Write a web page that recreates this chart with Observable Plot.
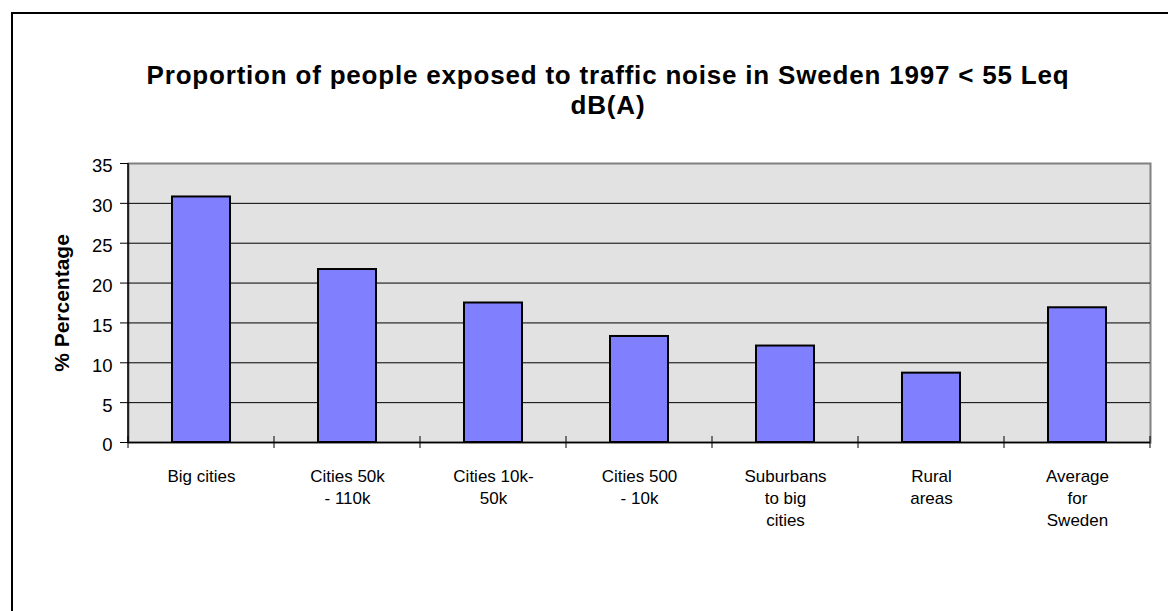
<!DOCTYPE html>
<html>
<head>
<meta charset="utf-8">
<script src="https://cdn.jsdelivr.net/npm/d3@7"></script>
<script src="https://cdn.jsdelivr.net/npm/@observablehq/plot@0.6"></script>
<style>
  html, body { margin: 0; padding: 0; background: #fff; }
  #chart { position: relative; width: 1168px; height: 611px; overflow: hidden; font-family: "Liberation Sans", Arial, sans-serif; }
  #frame { position: absolute; left: 11px; top: 12px; width: 1300px; height: 800px; border: 2px solid #000; box-sizing: border-box; }
  #plot { position: absolute; left: 0; top: 0; }
  #title { position: absolute; left: 108px; width: 1000px; top: 60px; text-align: center; font-weight: bold; font-size: 26px; line-height: 30px; letter-spacing: 0.8px; color: #000; }
</style>
</head>
<body>
<div id="chart">
  <div id="frame"></div>
  <div id="plot"></div>
  <div id="title"></div>
</div>
<script>
const titleLines = ["Proportion of people exposed to traffic noise in Sweden 1997 < 55 Leq", "dB(A)"];
const yLabel = "% Percentage";
const categories = ["Big cities", "Cities 50k - 110k", "Cities 10k-50k", "Cities 500 - 10k", "Suburbans to big cities", "Rural areas", "Average for Sweden"];
const tickLabels = ["Big cities", "Cities 50k\n- 110k", "Cities 10k-\n50k", "Cities 500\n- 10k", "Suburbans\nto big\ncities", "Rural\nareas", "Average\nfor\nSweden"];
const values = [30.8, 21.7, 17.5, 13.3, 12.1, 8.7, 16.9];
const yTicks = [0, 5, 10, 15, 20, 25, 30, 35];

const titleEl = document.getElementById("title");
titleLines.forEach(t => { const d = document.createElement("div"); d.textContent = t; titleEl.appendChild(d); });

const data = categories.map((c, i) => ({category: c, value: values[i]}));

function categoryTicks(index, scales, vals, dims) {
  const x = scales.x, y = scales.y;
  const bw = x.bandwidth ? x.bandwidth() : 0;
  const step = x.step ? x.step() : (x(categories[1]) - x(categories[0]));
  const bounds = categories.map(c => x(c) + bw / 2 - step / 2);
  bounds.push(x(categories[categories.length - 1]) + bw / 2 + step / 2);
  const y0 = y(0);
  const g = d3.create("svg:g");
  g.selectAll("line.t").data(bounds).join("line").attr("class", "t")
    .attr("x1", d => d).attr("x2", d => d).attr("y1", y0 - 6).attr("y2", y0 + 6)
    .attr("stroke", "#000").attr("stroke-width", 1);
  g.append("line")
    .attr("x1", dims.marginLeft).attr("x2", dims.marginLeft)
    .attr("y1", dims.marginTop).attr("y2", dims.height - dims.marginBottom)
    .attr("stroke", "#000").attr("stroke-width", 1.5);
  return g.node();
}

const chart = Plot.plot({
  width: 1168,
  height: 611,
  marginTop: 163,
  marginBottom: 169,
  marginLeft: 128,
  marginRight: 18,
  style: {background: "transparent", fontFamily: '"Liberation Sans", Arial, sans-serif', color: "#000", overflow: "visible"},
  x: {domain: categories, paddingInner: 0.6, paddingOuter: 0.3, align: 0.5, axis: null},
  y: {domain: [0, 35], axis: null},
  marks: [
    Plot.frame({fill: "#E2E2E2", stroke: "#808080", strokeWidth: 2}),
    Plot.gridY({ticks: yTicks.filter(t => t > 0 && t < 35), stroke: "#000", strokeOpacity: 1, strokeWidth: 1}),
    Plot.barY(data, {x: "category", y: "value", fill: "#8080FF", stroke: "#000", strokeWidth: 2}),
    Plot.ruleY([0], {stroke: "#000", strokeWidth: 1.5}),
    categoryTicks,
    Plot.axisY({ticks: yTicks, tickSize: 8, tickFormat: () => "", label: null, stroke: "#000"}),
    Plot.text(yTicks, {y: d => d, text: d => String(d), frameAnchor: "left", textAnchor: "end", dx: -16, dy: 3, fontSize: 18.5, fill: "#000"}),
    Plot.axisX({tickSize: 0, tickPadding: 24, fontSize: 17, lineHeight: 1.3, tickFormat: d => tickLabels[categories.indexOf(d)], label: null, fill: "#000"}),
    Plot.text([yLabel], {frameAnchor: "left", textAnchor: "middle", rotate: -90, dx: -66, fontWeight: "bold", fontSize: 21, fill: "#000"})
  ]
});
document.getElementById("plot").appendChild(chart);
</script>
</body>
</html>
